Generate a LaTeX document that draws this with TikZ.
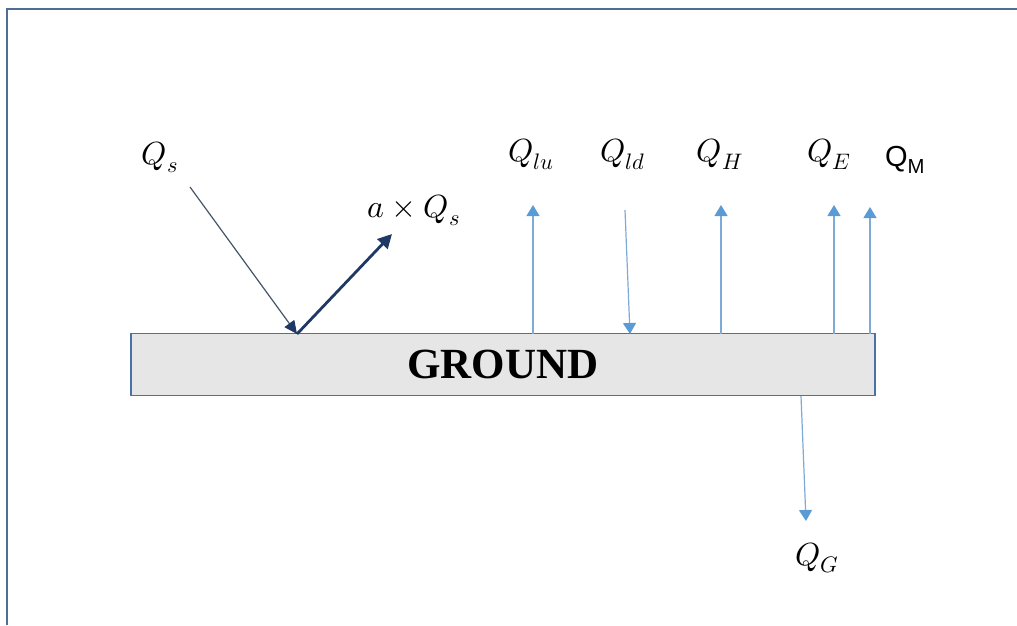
\documentclass[tikz,border=0pt]{standalone}
\usepackage{fontspec}
\usepackage{unicode-math}
\setmainfont{Liberation Serif}
\setmathfont{Latin Modern Math}
\newfontfamily\arialfam{Liberation Sans}
\usetikzlibrary{arrows.meta}
\definecolor{framecol}{HTML}{4F6E96}
\definecolor{groundfill}{HTML}{E7E6E6}
\definecolor{groundedge}{HTML}{4A72A8}
\definecolor{lightblue}{HTML}{7EAAD8}
\definecolor{headblue}{HTML}{5B9BD5}
\definecolor{navy}{HTML}{1F3864}
\definecolor{slate}{HTML}{44546A}
\tikzset{
  groundbox/.style={draw=groundedge, line width=1.5pt, fill=groundfill, minimum width=744pt, minimum height=62pt, inner sep=0pt, font=\fontsize{43}{47}\selectfont\bfseries},
  mathlbl/.style={inner sep=0pt, font=\fontsize{32}{38}\selectfont},
  sanslbl/.style={inner sep=0pt, font=\arialfam\fontsize{29}{34}\selectfont},
  fluxarrow/.style={draw=lightblue, line width=1.2pt, -{Triangle[width=13pt,length=11pt,color=headblue,fill=headblue]}},
  incoming/.style={draw=slate, line width=1.2pt, -{Triangle[width=12pt,length=13pt,color=navy,fill=navy]}},
  reflected/.style={draw=navy, line width=2.8pt, -{Triangle[width=14pt,length=14pt,color=navy,fill=navy]}},
  frameline/.style={draw=framecol, line width=2pt}
}
\begin{document}
\begin{tikzpicture}[x=1pt,y=-1pt]
\useasboundingbox (0,0) rectangle (1017,625);
% frame
\coordinate (fbl) at (7,625);
\coordinate (ftl) at (7,9);
\coordinate (ftr) at (1017,9);
\draw[frameline] (fbl) -- (ftl) -- (ftr);
% ground
\node[groundbox] (ground) at (503,364.5) {GROUND};
% labels
\node[mathlbl] (qs) at (160,157) {$Q_s$};
\node[mathlbl] (aqs) at (414,210) {$a \times Q_s$};
\node[mathlbl] (qlu) at (531,154) {$Q_{lu}$};
\node[mathlbl] (qld) at (623,154) {$Q_{ld}$};
\node[mathlbl] (qh) at (720,154) {$Q_H$};
\node[mathlbl] (qe) at (829,154) {$Q_E$};
\node[sanslbl] (qm) at (905,160) {Q\textsubscript{M}};
\node[mathlbl] (qg) at (817,558) {$Q_G$};
% arrow endpoints
\coordinate (sin) at (190,187);
\coordinate (shit) at (297,334);
\coordinate (sref) at (392,234);
\coordinate (lu0) at (533,334);
\coordinate (lu1) at (533,205);
\coordinate (ld0) at (625,210);
\coordinate (ld1) at (630,334);
\coordinate (h0) at (721,334);
\coordinate (h1) at (721,205);
\coordinate (e0) at (834,334);
\coordinate (e1) at (834,205);
\coordinate (m0) at (870,334);
\coordinate (m1) at (870,207);
\coordinate (g0) at (801,396);
\coordinate (g1) at (806,521);
% arrows
\draw[incoming] (sin) -- (shit);
\draw[reflected] (shit) -- (sref);
\draw[fluxarrow] (lu0) -- (lu1);
\draw[fluxarrow] (ld0) -- (ld1);
\draw[fluxarrow] (h0) -- (h1);
\draw[fluxarrow] (e0) -- (e1);
\draw[fluxarrow] (m0) -- (m1);
\draw[fluxarrow] (g0) -- (g1);
\end{tikzpicture}
\end{document}
